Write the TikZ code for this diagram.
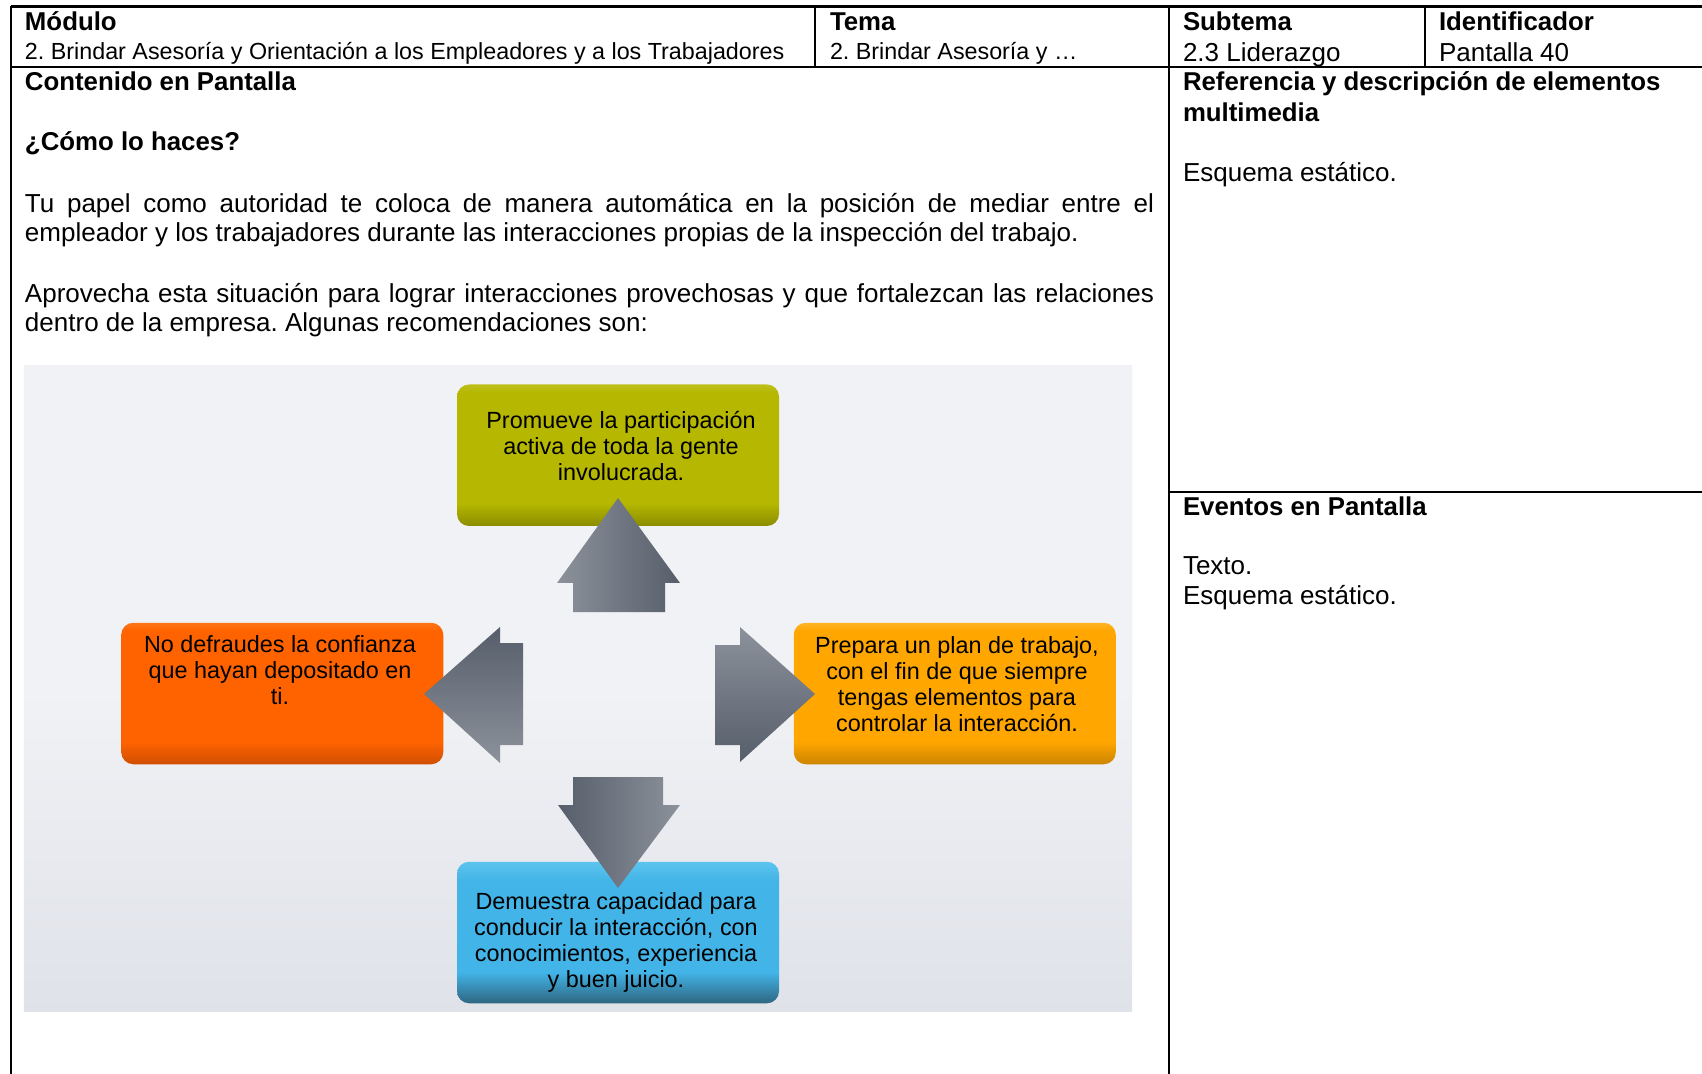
\documentclass[tikz,border=0pt]{standalone}
\usepackage{fontspec}
\setmainfont{Liberation Sans}
\frenchspacing
\definecolor{olB}{HTML}{8A8C00}
\definecolor{olM}{HTML}{B5B700}
\definecolor{olT}{HTML}{BEC01C}
\definecolor{orB}{HTML}{CF4E00}
\definecolor{orM}{HTML}{FF6300}
\definecolor{orT}{HTML}{FF7518}
\definecolor{amB}{HTML}{CC8400}
\definecolor{amM}{HTML}{FFA600}
\definecolor{amT}{HTML}{FFB424}
\definecolor{blB}{HTML}{2E6681}
\definecolor{blM}{HTML}{42B4E7}
\definecolor{blT}{HTML}{5CC4EE}
\definecolor{arD}{HTML}{565E6B}
\definecolor{arL}{HTML}{8C929B}
\definecolor{bgT}{HTML}{F1F2F5}
\definecolor{bgB}{HTML}{DFE2E9}
\pgfdeclareverticalshading{olsh}{100bp}{color(0bp)=(olB); color(25bp)=(olB); color(33bp)=(olM); color(72bp)=(olM); color(75bp)=(olT); color(100bp)=(olT)}
\pgfdeclareverticalshading{orsh}{100bp}{color(0bp)=(orB); color(25bp)=(orB); color(33bp)=(orM); color(72bp)=(orM); color(75bp)=(orT); color(100bp)=(orT)}
\pgfdeclareverticalshading{amsh}{100bp}{color(0bp)=(amB); color(25bp)=(amB); color(33bp)=(amM); color(72bp)=(amM); color(75bp)=(amT); color(100bp)=(amT)}
\pgfdeclareverticalshading{blsh}{100bp}{color(0bp)=(blB); color(25bp)=(blB); color(36bp)=(blM); color(68bp)=(blM); color(75bp)=(blT); color(100bp)=(blT)}
\begin{document}
\begin{tikzpicture}[x=0.5pt,y=-0.5pt,inner sep=0pt,outer sep=0pt,
  hd/.style={anchor=base west,font=\fontsize{12.9}{15}\selectfont\bfseries},
  vl/.style={anchor=base west,font=\fontsize{11.65}{14}\selectfont},
  bt/.style={anchor=base west,font=\fontsize{13}{15.2}\selectfont},
  boxtxt/.style={align=center,font=\fontsize{11.7}{13}\selectfont},
  rule/.style={line width=0.85pt},
  toprule/.style={line width=1.35pt},
  cbox/.style={shade,rounded corners=6pt,minimum width=161pt,minimum height=70.75pt}]
\useasboundingbox (0,0) rectangle (1702,1074);
\fill[white] (0,0) rectangle (1702,1074);

% table rules
\draw[toprule] (10.9,6.5) -- (1702,6.5);
\draw[rule] (10.9,6.5) -- (10.9,1074);
\draw[rule] (815.2,6.5) -- (815.2,67.3);
\draw[rule] (1169,6.5) -- (1169,1074);
\draw[rule] (1425.2,6.5) -- (1425.2,67.3);
\draw[rule] (10.9,67.3) -- (1702,67.3);
\draw[rule] (1169,491.7) -- (1702,491.7);

% header texts
\node[hd] (modH) at (25,30.4) {Módulo};
\node[vl] (modV) at (25,59.7) {2. Brindar Asesoría y Orientación a los Empleadores y a los Trabajadores};
\node[hd] (temH) at (830,30.4) {Tema};
\node[vl] (temV) at (830,59.7) {2. Brindar Asesoría y …};
\node[hd] (subH) at (1183,30.4) {Subtema};
\node[bt] (subV) at (1183,62) {2.3 Liderazgo};
\node[hd] (idH) at (1439,30.4) {Identificador};
\node[bt] (idV) at (1439,62) {Pantalla 40};

% left column texts
\node[hd] (conH) at (25,91) {Contenido en Pantalla};
\node[hd] (como) at (25,151) {¿Cómo lo haces?};
\node[bt] (p1a) at (25,212.5) {\makebox[564.5pt][s]{Tu papel como autoridad te coloca de manera automática en la posición de mediar entre el}};
\node[bt] (p1b) at (25,242) {empleador y los trabajadores durante las interacciones propias de la inspección del trabajo.};
\node[bt] (p2a) at (25,302.5) {\makebox[564.5pt][s]{Aprovecha esta situación para lograr interacciones provechosas y que fortalezcan las relaciones}};
\node[bt] (p2b) at (25,332) {dentro de la empresa. Algunas recomendaciones son:};

% right column texts
\node[hd] (refH) at (1183,91) {Referencia y descripción de elementos};
\node[hd] (refH2) at (1183,121.6) {multimedia};
\node[bt] (refV) at (1183,181.3) {Esquema estático.};
\node[hd] (evH) at (1183,515.6) {Eventos en Pantalla};
\node[bt] (evV1) at (1183,574.2) {Texto.};
\node[bt] (evV2) at (1183,604.6) {Esquema estático.};

% diagram background
\shade[top color=bgT,bottom color=bgB,middle color=bgT] (23.9,365.8) rectangle (1132,1011.7);

% boxes
\node[cbox,shading=olsh] (topbox) at (618,455.25) {};
\node[cbox,shading=orsh] (leftbox) at (282.25,693.5) {};
\node[cbox,shading=amsh] (rightbox) at (954.75,693.5) {};
\node[cbox,shading=blsh] (botbox) at (618,932.5) {};

% box texts
\node[boxtxt] (toptxt) at (621,446) {Promueve la participación\\activa de toda la gente\\involucrada.};
\node[boxtxt] (lefttxt) at (280,670) {No defraudes la confianza\\que hayan depositado en\\ti.};
\node[boxtxt] (righttxt) at (957,684) {Prepara un plan de trabajo,\\con el fin de que siempre\\tengas elementos para\\controlar la interacción.};
\node[boxtxt] (bottxt) at (616,942.5) {Demuestra capacidad para\\conducir la interacción, con\\conocimientos, experiencia\\y buen juicio.};

% arrows
\shade[left color=arL,right color=arD] (618,498) -- (680,583) -- (665,583) -- (665,612) -- (573,612) -- (573,583) -- (557,583) -- cycle;
\shade[top color=arD,bottom color=arL] (424,694) -- (500,627) -- (500,643) -- (523,643) -- (523,745) -- (500,745) -- (500,763) -- cycle;
\shade[top color=arL,bottom color=arD] (815,694) -- (740,762) -- (740,745) -- (715,745) -- (715,645) -- (740,645) -- (740,627) -- cycle;
\shade[left color=arD,right color=arL] (573,777) -- (663,777) -- (663,805) -- (680,805) -- (618,888) -- (558,805) -- (573,805) -- cycle;
\end{tikzpicture}
\end{document}
